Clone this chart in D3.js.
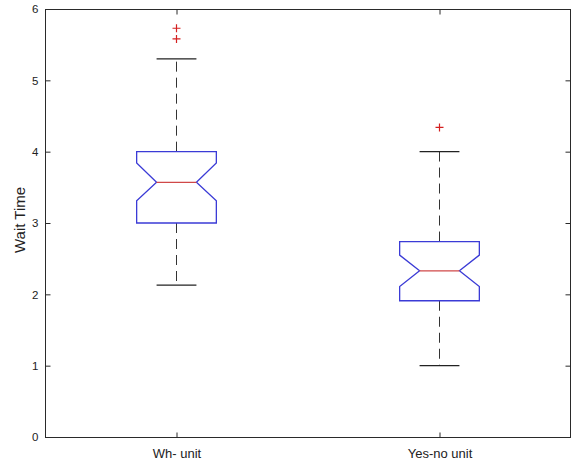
<!DOCTYPE html>
<html>
<head>
<meta charset="utf-8">
<script src="https://cdn.jsdelivr.net/npm/d3@7"></script>
<style>
  html, body { margin: 0; padding: 0; background: #fff; }
  svg { display: block; }
  text { font-family: Arial, "Liberation Sans", Helvetica, sans-serif; }
</style>
</head>
<body>
<script>
// Group labels and summary statistics of wait time per group
const categories = ["Wh- unit", "Yes-no unit"];
const q1 = [3.0, 1.91];
const median = [3.57, 2.33];
const q3 = [4.0, 2.74];
const notchLow = [3.31, 2.11];
const notchHigh = [3.84, 2.55];
const whiskerLow = [2.13, 1.0];
const whiskerHigh = [5.3, 4.0];
const outliers = [[5.58, 5.73], [4.34]];
const yTicks = [0, 1, 2, 3, 4, 5, 6];

const W = 572, H = 462;
const margin = { left: 45, right: 1, top: 9, bottom: 25 };
const x0 = margin.left, x1 = W - margin.right;
const y0 = H - margin.bottom, y1 = margin.top;

const svg = d3.select("body").append("svg").attr("width", W).attr("height", H);

const x = d3.scalePoint().domain(categories).range([x0, x1]).padding(0.5);
const y = d3.scaleLinear().domain([0, 6]).range([y0, y1]);

const step = x.step();
const boxW = step * 0.303;
const capW = boxW / 2;
const notchW = boxW / 4;

// Axes frame
const axisColor = "#2a2a2a";
const tickLen = 5;

svg.append("rect")
  .attr("x", x0 + 0.5).attr("y", y1 + 0.5)
  .attr("width", x1 - x0 - 1).attr("height", y0 - y1)
  .attr("fill", "none").attr("stroke", axisColor).attr("stroke-width", 1);

// Y axis (left), ticks pointing inward
const yAxis = d3.axisLeft(y).tickValues(yTicks).tickSize(-tickLen).tickPadding(7).tickFormat(d3.format("d"));
const gy = svg.append("g").attr("transform", `translate(${x0 + 0.5},0)`).call(yAxis);
gy.select(".domain").remove();
gy.selectAll("line").attr("stroke", axisColor);
gy.selectAll("text").attr("font-size", 11.5).attr("fill", "#222");

// Right side ticks
const yAxisR = d3.axisRight(y).tickValues(yTicks).tickSize(-tickLen).tickFormat("");
const gyr = svg.append("g").attr("transform", `translate(${x1 - 0.5},0)`).call(yAxisR);
gyr.select(".domain").remove();
gyr.selectAll("line").attr("stroke", axisColor);

// X axis (bottom), ticks inward
const xAxis = d3.axisBottom(x).tickSize(-tickLen).tickPadding(11);
const gx = svg.append("g").attr("transform", `translate(0,${y0 + 0.5})`).call(xAxis);
gx.select(".domain").remove();
gx.selectAll("line").attr("stroke", axisColor);
gx.selectAll("text").attr("font-size", 13).attr("fill", "#222");

// Top ticks
const xAxisT = d3.axisTop(x).tickSize(-tickLen).tickFormat("");
const gxt = svg.append("g").attr("transform", `translate(0,${y1 + 0.5})`).call(xAxisT);
gxt.select(".domain").remove();
gxt.selectAll("line").attr("stroke", axisColor);

// Y label
svg.append("text")
  .attr("transform", `translate(25,${(y0 + y1) / 2 - 3}) rotate(-90)`)
  .attr("text-anchor", "middle")
  .attr("font-size", 15)
  .attr("fill", "#222")
  .text("Wait Time");

// Boxes
const data = categories.map((c, i) => ({
  c, q1: q1[i], med: median[i], q3: q3[i], nl: notchLow[i], nh: notchHigh[i],
  wl: whiskerLow[i], wh: whiskerHigh[i], out: outliers[i]
}));

const g = svg.selectAll("g.box").data(data).enter().append("g").attr("class", "box");

// Whiskers (dashed)
g.append("line")
  .attr("x1", d => x(d.c)).attr("x2", d => x(d.c))
  .attr("y1", d => y(d.q3)).attr("y2", d => y(d.wh))
  .attr("stroke", "#333").attr("stroke-width", 1).attr("stroke-dasharray", "10,6");
g.append("line")
  .attr("x1", d => x(d.c)).attr("x2", d => x(d.c))
  .attr("y1", d => y(d.q1)).attr("y2", d => y(d.wl))
  .attr("stroke", "#333").attr("stroke-width", 1).attr("stroke-dasharray", "10,6");

// Whisker caps
["wh", "wl"].forEach(k => {
  g.append("line")
    .attr("x1", d => x(d.c) - capW / 2).attr("x2", d => x(d.c) + capW / 2)
    .attr("y1", d => y(d[k])).attr("y2", d => y(d[k]))
    .attr("stroke", "#222").attr("stroke-width", 1.2);
});

// Notched box outline
g.append("path")
  .attr("d", d => {
    const cx = x(d.c), l = cx - boxW / 2, r = cx + boxW / 2;
    const nl = cx - boxW / 2 + notchW, nr = cx + boxW / 2 - notchW;
    return d3.line()([
      [l, y(d.q1)], [l, y(d.nl)], [nl, y(d.med)], [l, y(d.nh)], [l, y(d.q3)],
      [r, y(d.q3)], [r, y(d.nh)], [nr, y(d.med)], [r, y(d.nl)], [r, y(d.q1)]
    ]) + "Z";
  })
  .attr("fill", "none").attr("stroke", "#3b3bd6").attr("stroke-width", 1.3);

// Median
g.append("line")
  .attr("x1", d => x(d.c) - boxW / 2 + notchW).attr("x2", d => x(d.c) + boxW / 2 - notchW)
  .attr("y1", d => y(d.med)).attr("y2", d => y(d.med))
  .attr("stroke", "#d04848").attr("stroke-width", 1.2);

// Outliers as red plus markers
const ms = 4;
g.selectAll("path.out").data(d => d.out.map(v => ({ c: d.c, v }))).enter()
  .append("path").attr("class", "out")
  .attr("d", d => {
    const cx = x(d.c), cy = y(d.v);
    return `M${cx - ms},${cy}H${cx + ms}M${cx},${cy - ms}V${cy + ms}`;
  })
  .attr("stroke", "#d42020").attr("stroke-width", 1.2).attr("fill", "none");
</script>
</body>
</html>
